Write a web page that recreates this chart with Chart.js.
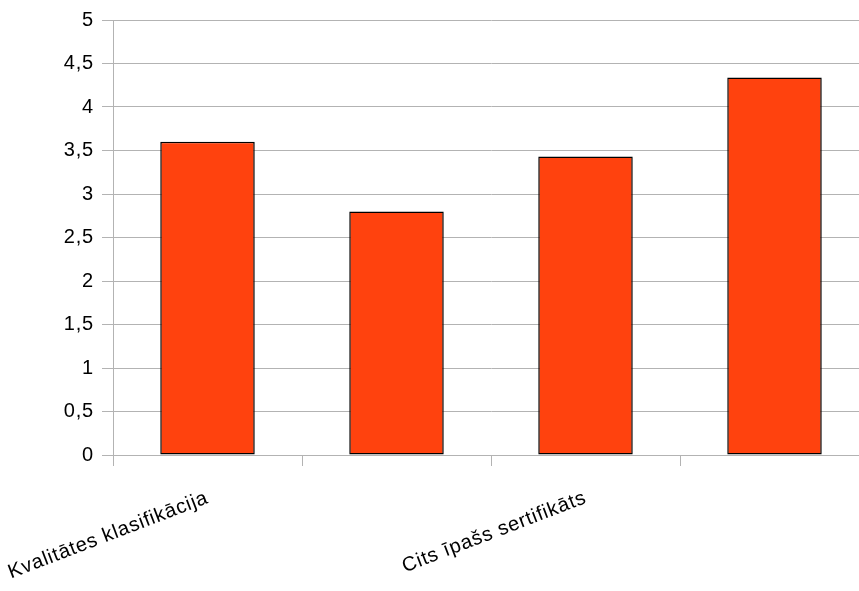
<!DOCTYPE html>
<html>

<head>
    <title>Sertifikāti</title>
    <script src="https://cdn.jsdelivr.net/npm/chart.js@4/dist/chart.umd.min.js"></script>
    <style>
        html,
        body {
            margin: 0;
            padding: 0;
            overflow: hidden;
            background: #ffffff;
        }

        #chart-box {
            position: relative;
            width: 880px;
            height: 591px;
        }
    </style>
</head>

<body>
    <div id="chart-box">
        <canvas id="bar-canvas"></canvas>
    </div>
    <script>
        // Categories (the 2nd and 4th labels are not shown on the axis)
        var categories = ['Kvalitātes klasifikācija', '', 'Cits īpašs sertifikāts', ''];
        var values = [3.6, 2.8, 3.43, 4.34];
        var yTicks = [0, 0.5, 1, 1.5, 2, 2.5, 3, 3.5, 4, 4.5, 5];

        var gridColor = '#b3b3b3';
        var labelFont = { family: 'Liberation Sans', size: 20 };

        // Slightly wider letter spacing for all chart text (reset whenever the canvas is resized)
        var spacingPlugin = {
            id: 'letterSpacing',
            beforeLayout: function(chart) {
                chart.ctx.letterSpacing = '0.8px';
            },
            beforeDraw: function(chart) {
                chart.ctx.letterSpacing = '0.8px';
            }
        };

        var ctx = document.getElementById('bar-canvas').getContext('2d');
        var barChart = new Chart(ctx, {
            type: 'bar',
            data: {
                labels: categories,
                datasets: [{
                    label: 'Vērtība',
                    data: values,
                    backgroundColor: '#ff420e',
                    borderColor: '#000000',
                    borderWidth: 1.5,
                    borderSkipped: false,
                    categoryPercentage: 1,
                    barPercentage: 0.5
                }]
            },
            plugins: [spacingPlugin],
            options: {
                responsive: true,
                maintainAspectRatio: false,
                animation: false,
                layout: {
                    padding: { top: 20, right: 11, left: 0, bottom: 0 }
                },
                plugins: {
                    legend: { display: false },
                    tooltip: { enabled: false }
                },
                scales: {
                    x: {
                        offset: true,
                        grid: {
                            offset: true,
                            drawOnChartArea: false,
                            drawTicks: true,
                            tickLength: 11,
                            color: gridColor
                        },
                        border: { display: false },
                        ticks: {
                            autoSkip: false,
                            minRotation: 21,
                            maxRotation: 21,
                            padding: 20,
                            color: '#000000',
                            font: labelFont
                        },
                        afterFit: function(scale) {
                            scale.height = 136;
                            // the rotated first label may run past the left edge
                            scale.paddingLeft = 0;
                            scale.paddingRight = 0;
                        }
                    },
                    y: {
                        min: 0,
                        max: 5,
                        afterBuildTicks: function(scale) {
                            scale.ticks = yTicks.map(function(v) { return { value: v }; });
                        },
                        grid: {
                            color: gridColor,
                            tickLength: 11
                        },
                        border: { display: true, color: gridColor },
                        ticks: {
                            padding: 8,
                            color: '#000000',
                            font: labelFont,
                            callback: function(v) {
                                return String(v).replace('.', ',');
                            }
                        },
                        afterFit: function(scale) {
                            scale.width = 113;
                        }
                    }
                }
            }
        });
    </script>
</body>

</html>
